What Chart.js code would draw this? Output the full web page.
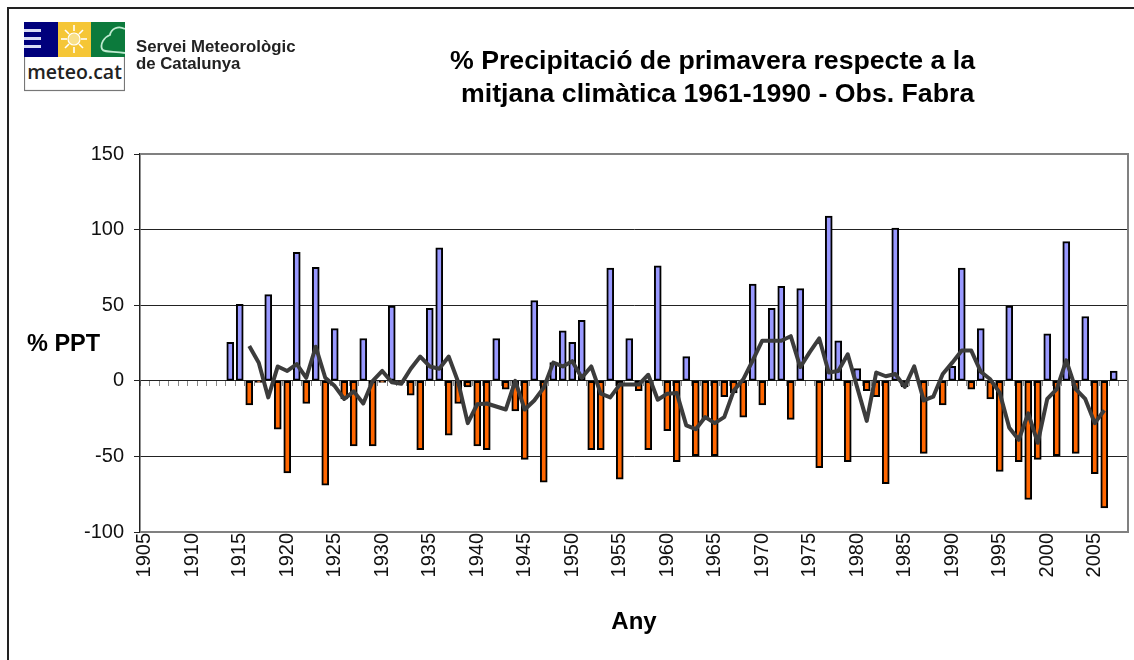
<!DOCTYPE html>
<html lang="ca">
<head>
<meta charset="utf-8">
<title>% Precipitació de primavera</title>
<script src="https://cdn.jsdelivr.net/npm/chart.js@4"></script>
<style>
html,body{margin:0;padding:0;background:#fff;width:1134px;height:660px;overflow:hidden}
body{position:relative;font-family:"Liberation Sans",Arial,sans-serif;color:#000}
#frame{position:absolute;left:7px;top:7px;width:1127px;height:653px;border-left:2px solid #222;border-top:2px solid #222;box-sizing:border-box}
canvas{position:absolute;left:0;top:0}
.t{position:absolute;white-space:pre;font-weight:bold;line-height:1}
#logo{position:absolute;left:24px;top:22px}
</style>
</head>
<body>
<div id="frame"></div>
<canvas id="c" width="1134" height="660"></canvas>
<svg id="logo" width="101" height="70" viewBox="0 0 101 70">
  <rect x="0.5" y="0.5" width="100" height="68" fill="#fff" stroke="#777" stroke-width="1.2"/>
  <rect x="0" y="0" width="34" height="35" fill="#00007c"/>
  <rect x="0" y="7" width="17" height="3" fill="#d9dcf5"/><rect x="0" y="15" width="17" height="3" fill="#d9dcf5"/><rect x="0" y="23" width="17" height="3" fill="#d9dcf5"/>
  <rect x="34" y="0" width="33" height="35" fill="#f5c636"/>
  <circle cx="50" cy="17" r="6" fill="#f8e08a" stroke="#fff" stroke-width="1.2"/>
  <g stroke="#fff" stroke-width="1.6"><line x1="50" y1="3" x2="50" y2="9"/><line x1="50" y1="25" x2="50" y2="31"/><line x1="37" y1="17" x2="43" y2="17"/><line x1="57" y1="17" x2="63" y2="17"/><line x1="41" y1="8" x2="45" y2="12"/><line x1="55" y1="22" x2="59" y2="26"/><line x1="41" y1="26" x2="45" y2="22"/><line x1="55" y1="12" x2="59" y2="8"/></g>
  <rect x="67" y="0" width="34" height="35" fill="#0c7a3c"/>
  <path d="M101 7 C94 3 87 7 86 13 C80 15 76 22 78 27 C80 31 90 29 101 31" fill="none" stroke="#bfead0" stroke-width="1.8"/>
  <text x="50.5" y="57" text-anchor="middle" font-family="'Open Sans','Noto Sans',sans-serif" font-size="19.5" font-weight="600" fill="#222">meteo.cat</text>
</svg>
<div class="t" style="left:136px;top:39px;font-size:16.8px;color:#222">Servei Meteorològic</div>
<div class="t" style="left:136px;top:56px;font-size:16.8px;color:#222">de Catalunya</div>
<div class="t" style="left:450px;top:47px;font-size:26.7px">% Precipitació de primavera respecte a la</div>
<div class="t" style="left:461px;top:80px;font-size:26.7px">mitjana climàtica 1961-1990 - Obs. Fabra</div>
<div class="t" style="left:27px;top:332px;font-size:23.5px">% PPT</div>
<script>
const years = [1905,1906,1907,1908,1909,1910,1911,1912,1913,1914,1915,1916,1917,1918,1919,1920,1921,1922,1923,1924,1925,1926,1927,1928,1929,1930,1931,1932,1933,1934,1935,1936,1937,1938,1939,1940,1941,1942,1943,1944,1945,1946,1947,1948,1949,1950,1951,1952,1953,1954,1955,1956,1957,1958,1959,1960,1961,1962,1963,1964,1965,1966,1967,1968,1969,1970,1971,1972,1973,1974,1975,1976,1977,1978,1979,1980,1981,1982,1983,1984,1985,1986,1987,1988,1989,1990,1991,1992,1993,1994,1995,1996,1997,1998,1999,2000,2001,2002,2003,2004,2005,2006,2007,2008];
const pctPrecip = [null,null,null,null,null,null,null,null,null,
25.5,50.5,-16,-1,57,-32,-61,85,-15,75,-69,
34.5,-12,-43,28,-43,-1,49.5,-1,-9.5,-45.5,
48,88,-36,-15,-4,-43,-45.5,28,-5.5,-20,
-52,53,-67,12,33,25.5,40,-45.5,-45.5,74.5,
-65,28,-6.5,-45.5,76,-33,-53.5,16,-49.5,-25.5,
-49.5,-10.5,-8,-24,64,-16,48,62.5,-25.5,61,
null,-57.5,109,26.5,-53.5,8,-6.5,-10.5,-68,101,
-4,null,-48,null,-16,9.5,74.5,-5.5,34.5,-12,
-60,49.5,-53.5,-78.5,-52,31,-49.5,92,-48,42.5,
-61.5,-84,6.5,null];
const movingAvg = [null,null,null,null,null,null,null,null,null,null,null,
23,12,-11,9.5,6.5,11,2,22.5,2,
-3.5,-12,-7,-15,0,6.5,-1,-2,8,16,
9.5,8,16,-1,-28,-15.5,-15,-17,-19,0,
-19,-13,-4.5,12,9.5,13,2,9.5,-8.5,-11,
-2.5,-2.5,-2.5,4,-12.5,-8.5,-8,-29.5,-32,-24,
-28,-24,-6.5,1,13.5,26.5,26.5,26.5,29.5,9,
19,28,5.5,6.5,17.5,-4.5,-26.5,5.5,3,4.5,
-4,9.5,-13,-10.5,4.5,12,20,20,6,1,
-8,-31,-39,-21.5,-41,-12,-5.5,13.5,-5.5,-12,
-28,-19.5,null,null];
const yTicksStep = 50;

const plotBorder = {
  id: 'plotBorder',
  afterDatasetsDraw(chart) {
    const a = chart.chartArea, g = chart.ctx;
    g.save();
    g.strokeStyle = '#808080';
    g.lineWidth = 2;
    g.beginPath();
    g.moveTo(a.left, a.top); g.lineTo(a.right, a.top); g.lineTo(a.right, a.bottom); g.lineTo(a.left, a.bottom);
    g.stroke();
    g.restore();
  }
};
const noSidePad = s => { s.paddingLeft = 0; s.paddingRight = 0; };

new Chart(document.getElementById('c'), {
  data: {
    labels: years,
    datasets: [
      { type: 'line', label: 'Mitjana mòbil', data: movingAvg, xAxisID: 'x', yAxisID: 'y', order: 1,
        borderColor: '#3c3c3c', borderWidth: 4, pointRadius: 0, tension: 0, spanGaps: false, borderJoinStyle: 'round' },
      { type: 'bar', label: '% PPT', data: pctPrecip, xAxisID: 'x', yAxisID: 'y', order: 2,
        barThickness: 7, borderWidth: 2, borderColor: '#000', borderSkipped: false,
        backgroundColor: c => c.raw < 0 ? '#ff6600' : '#9999ff' }
    ]
  },
  options: {
    responsive: false,
    animation: false,
    devicePixelRatio: 1,
    layout: { padding: { left: 0, right: 6, top: 154, bottom: 0 } },
    plugins: { legend: { display: false }, title: { display: false }, tooltip: { enabled: false } },
    scales: {
      y: {
        min: -100, max: 150,
        afterFit(s) { s.width = 140; s.paddingTop = 0; s.paddingBottom = 0; },
        border: { color: '#222', width: 1.5 },
        grid: { color: c => (c.tick.value === 150 || c.tick.value === -100) ? '#808080' : '#222',
                lineWidth: 1, tickColor: '#222', tickLength: 6 },
        ticks: { stepSize: yTicksStep, padding: 10, color: '#111',
                 font: { family: '"Liberation Sans",Arial,sans-serif', size: 20 } }
      },
      x: {
        type: 'category',
        position: { y: 0 },
        offset: true,
        afterFit: noSidePad,
        border: { display: false },
        grid: { offset: true, drawOnChartArea: false, drawTicks: true, tickLength: 5, tickColor: '#888', lineWidth: 1 },
        ticks: { display: false, autoSkip: false }
      },
      xBottom: {
        type: 'category',
        position: 'bottom',
        offset: true,
        afterFit(s) { s.height = 128; noSidePad(s); },
        border: { display: false },
        grid: { display: false },
        title: { display: true, text: 'Any', color: '#000', padding: { top: 0, bottom: 23 },
                 font: { family: '"Liberation Sans",Arial,sans-serif', size: 24, weight: 'bold' } },
        ticks: { autoSkip: false, minRotation: 90, maxRotation: 90, padding: -7, color: '#111',
                 font: { family: '"Liberation Sans",Arial,sans-serif', size: 20 },
                 callback(v) { const y = this.getLabelForValue(v); return y % 5 === 0 && y < 2008 ? String(y) : ''; } }
      }
    }
  },
  plugins: [plotBorder]
});
</script>
</body>
</html>
